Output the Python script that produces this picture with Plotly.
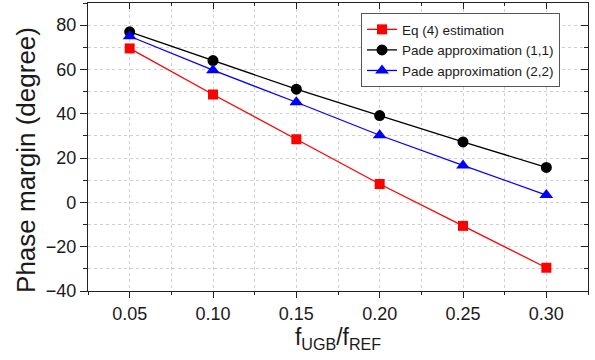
import plotly.graph_objects as go

x_vals = [0.05, 0.10, 0.15, 0.20, 0.25, 0.30]
eq4 = [69.5, 48.7, 28.5, 8.3, -10.6, -29.5]
pade11 = [77.0, 64.0, 51.1, 39.2, 27.3, 15.8]
pade22 = [75.0, 59.7, 45.2, 30.3, 16.7, 3.3]
x_ticks = [0.05, 0.10, 0.15, 0.20, 0.25, 0.30]
x_tick_labels = ["0.05", "0.10", "0.15", "0.20", "0.25", "0.30"]
y_ticks = [-40, -20, 0, 20, 40, 60, 80]

font = "Liberation Sans, Arial, sans-serif"
fig = go.Figure()
fig.add_trace(go.Scatter(x=x_vals, y=eq4, mode="lines+markers", name="Eq (4) estimation",
                         line=dict(color="#ff0000", width=1.3),
                         marker=dict(symbol="square", size=10, color="#ff0000")))
fig.add_trace(go.Scatter(x=x_vals, y=pade11, mode="lines+markers", name="Pade approximation (1,1)",
                         line=dict(color="#000000", width=1.3),
                         marker=dict(symbol="circle", size=11, color="#000000")))
fig.add_trace(go.Scatter(x=x_vals, y=pade22, mode="lines+markers", name="Pade approximation (2,2)",
                         line=dict(color="#0000ff", width=1.3),
                         marker=dict(symbol="triangle-up", size=12, color="#0000ff")))

xr = [0.025, 0.325]
yr = [-40, 90]
grid = dict(showgrid=True, gridcolor="#d0d0d0", griddash="dot", gridwidth=1)
fig.update_layout(
    width=595, height=360,
    margin=dict(l=88, r=7, t=3, b=69),
    plot_bgcolor="white", paper_bgcolor="white",
    font=dict(family=font, color="#1a1a1a"),
    showlegend=True,
    legend=dict(x=0.546, y=0.965, xanchor="left", yanchor="top",
                bordercolor="#555555", borderwidth=1, bgcolor="white",
                font=dict(size=13.5, family=font, color="#1a1a1a"),
                tracegroupgap=0, itemwidth=30),
    xaxis=dict(range=xr, tickvals=x_ticks, ticktext=x_tick_labels,
               ticks="outside", ticklen=6, tickwidth=1, tickcolor="#222",
               showline=True, linecolor="#222", linewidth=1.3,
               tickfont=dict(size=18), zeroline=False,
               minor=dict(dtick=0.025, tick0=0.025, ticks="outside", ticklen=3, tickcolor="#222", **grid),
               title=dict(text="f<sub>UGB</sub>/f<sub>REF</sub>", font=dict(size=23), standoff=2),
               **grid),
    yaxis=dict(range=yr, tickvals=y_ticks, ticks="outside", ticklen=7, tickwidth=1, tickcolor="#222",
               showline=True, linecolor="#222", linewidth=1.3,
               tickfont=dict(size=18), zeroline=False,
               minor=dict(dtick=10, tick0=0, ticks="outside", ticklen=4, tickcolor="#222", **grid),
               **grid),
    xaxis2=dict(range=xr, overlaying="x", side="top", tickvals=x_ticks, showticklabels=False,
                ticks="inside", ticklen=6, tickcolor="#222", showline=True, linecolor="#222",
                linewidth=1.3, showgrid=False, zeroline=False,
                minor=dict(dtick=0.025, tick0=0.025, ticks="inside", ticklen=3, tickcolor="#222")),
    yaxis2=dict(range=yr, overlaying="y", side="right", tickvals=y_ticks, showticklabels=False,
                ticks="inside", ticklen=7, tickcolor="#222", showline=True, linecolor="#222",
                linewidth=1.3, showgrid=False, zeroline=False,
                minor=dict(dtick=10, tick0=0, ticks="inside", ticklen=4, tickcolor="#222")),
)
fig.add_annotation(text="Phase margin (degree)", xref="paper", yref="paper",
                   x=-0.124, y=0.455, xanchor="center", yanchor="middle",
                   textangle=-90, showarrow=False, font=dict(size=26, family=font, color="#1a1a1a"))
fig.add_trace(go.Scatter(x=[None], y=[None], xaxis="x2", yaxis="y2", showlegend=False, hoverinfo="skip"))
fig.write_html("out.html")
